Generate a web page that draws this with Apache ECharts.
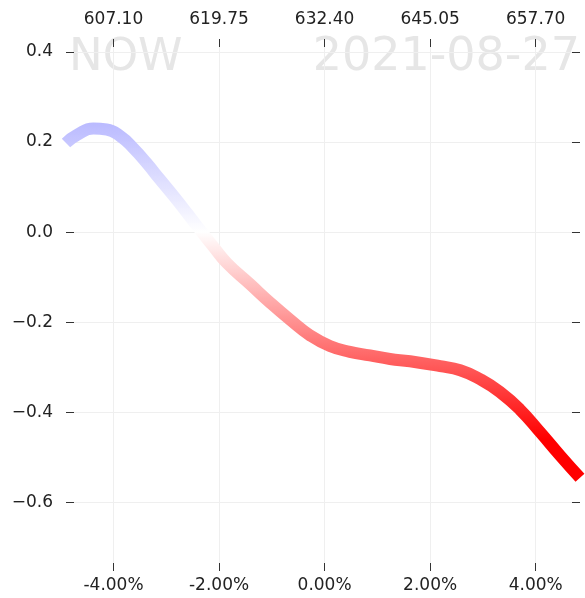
<!DOCTYPE html>
<html>
<head>
<meta charset="utf-8">
<script src="https://cdn.jsdelivr.net/npm/echarts@6/dist/echarts.min.js"></script>
<style>
  html, body { margin: 0; padding: 0; background: #ffffff; }
  #chart { width: 585px; height: 598px; }
</style>
</head>
<body>
<div id="chart"></div>
<script>
// Move in percent vs. value curve
const movePct = [-4.9, -4.69, -4.38, -4.13, -3.87, -3.62, -3.37, -3.12, -2.86, -2.61, -2.36,
                 -2.11, -1.85, -1.41, -1.03, -0.65, -0.28, 0.10, 0.48, 0.86, 1.24, 1.62,
                 2.19, 2.57, 2.95, 3.32, 3.70, 4.08, 4.46, 4.84];
const curveValue = [0.198, 0.216, 0.230, 0.228, 0.213, 0.186, 0.153, 0.117, 0.080, 0.043, 0.005,
                    -0.032, -0.069, -0.116, -0.157, -0.195, -0.229, -0.253, -0.266, -0.274, -0.282, -0.287,
                    -0.298, -0.307, -0.327, -0.355, -0.394, -0.444, -0.496, -0.546];

// Tick positions and labels
const pctTicks = [-4, -2, 0, 2, 4];
const pctLabels = ['-4.00%', '-2.00%', '0.00%', '2.00%', '4.00%'];
const priceLabels = ['607.10', '619.75', '632.40', '645.05', '657.70'];
const valueTicks = [-0.6, -0.4, -0.2, 0.0, 0.2, 0.4];
const valueLabels = ['\u22120.6', '\u22120.4', '\u22120.2', '0.0', '0.2', '0.4'];

const titleLeft = 'NOW';
const titleRight = '2021-08-27';

const labelFont = { fontFamily: 'DejaVu Sans', fontSize: 17, color: '#222222' };

function pick(list, ticks, v) {
  for (let i = 0; i < ticks.length; i++) {
    if (Math.abs(ticks[i] - v) < 1e-9) return list[i];
  }
  return '';
}

const chart = echarts.init(document.getElementById('chart'), null, { renderer: 'canvas' });

const tickStyle = { show: true, inside: true, length: 8, lineStyle: { color: '#333333', width: 1 } };
const hiddenLine = { show: false, onZero: false };

chart.setOption({
  animation: false,
  backgroundColor: '#ffffff',
  grid: { left: 66, right: 5, top: 39, bottom: 27, outerBoundsMode: 'none', containLabel: false },
  graphic: [
    {
      type: 'text', z: 0, silent: true,
      style: { text: titleLeft, x: 69, y: 58, fill: '#e6e6e6',
               font: '45px "DejaVu Sans"', align: 'left', verticalAlign: 'middle' }
    },
    {
      type: 'text', z: 0, silent: true,
      style: { text: titleRight, x: 580, y: 58, fill: '#e6e6e6',
               font: '46px "DejaVu Sans"', align: 'right', verticalAlign: 'middle' }
    }
  ],
  xAxis: [
    {
      type: 'value', position: 'bottom', min: -4.9, max: 4.84,
      axisLine: hiddenLine,
      axisTick: Object.assign({ customValues: pctTicks }, tickStyle),
      axisLabel: Object.assign({ customValues: pctTicks, margin: 6,
        formatter: v => pick(pctLabels, pctTicks, v) }, labelFont),
      splitLine: { show: true, lineStyle: { color: '#efefef', width: 1 } }
    },
    {
      type: 'value', position: 'top', min: -4.9, max: 4.84,
      axisLine: hiddenLine,
      axisTick: Object.assign({ customValues: pctTicks }, tickStyle),
      axisLabel: Object.assign({ customValues: pctTicks, margin: 11,
        formatter: v => pick(priceLabels, pctTicks, v) }, labelFont),
      splitLine: { show: false }
    }
  ],
  yAxis: [
    {
      type: 'value', position: 'left', min: -0.753, max: 0.429,
      axisLine: hiddenLine,
      axisTick: Object.assign({ customValues: valueTicks }, tickStyle),
      axisLabel: Object.assign({ customValues: valueTicks, margin: 13,
        formatter: v => pick(valueLabels, valueTicks, v) }, labelFont),
      splitLine: { show: true, lineStyle: { color: '#efefef', width: 1 } }
    },
    {
      type: 'value', position: 'right', min: -0.753, max: 0.429,
      axisLine: hiddenLine,
      axisTick: Object.assign({ customValues: valueTicks }, tickStyle),
      axisLabel: { show: false },
      splitLine: { show: false }
    }
  ],
  // Diverging colour by value: red below zero, white at zero, blue above
  visualMap: {
    type: 'continuous', show: false, seriesIndex: 0, dimension: 1,
    min: -0.46, max: 0.46,
    inRange: { color: ['#ff0000', '#ffffff', '#7c7cff'] }
  },
  series: [
    {
      type: 'line', xAxisIndex: 0, yAxisIndex: 0,
      data: movePct.map((x, i) => [x, curveValue[i]]),
      smooth: 0.5, showSymbol: false, symbol: 'none', clip: true,
      lineStyle: { width: 12, cap: 'butt', join: 'round' },
      z: 3
    }
  ]
});
</script>
</body>
</html>
